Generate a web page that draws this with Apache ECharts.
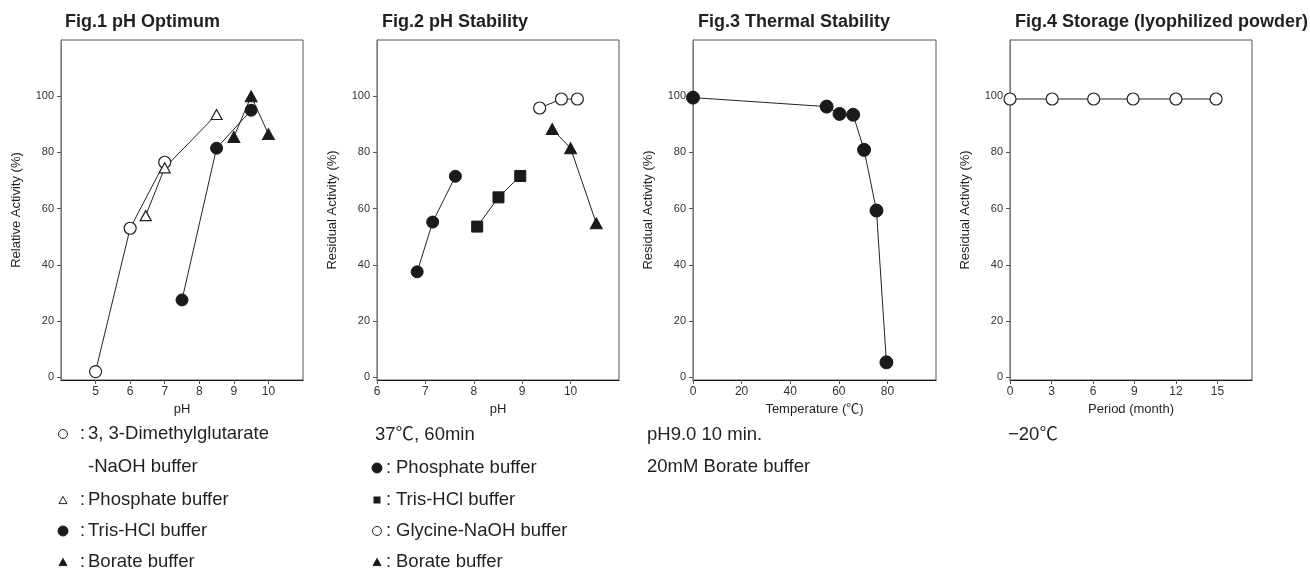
<!DOCTYPE html>
<html>
<head>
<meta charset="utf-8">
<script src="https://cdn.jsdelivr.net/npm/echarts@6/dist/echarts.min.js"></script>
<style>
html,body{margin:0;padding:0;background:#fff;}
#chart{width:1310px;height:570px;}
</style>
</head>
<body>
<div id="chart"></div>
<script>
// ---------- DATA ----------
// Fig.1 pH Optimum
const fig1DmgX = [5, 6, 7];
const fig1DmgY = [2, 53, 76.5];
const fig1PhosX = [6.45, 7, 8.5];
const fig1PhosY = [57.5, 74.5, 93.5];
const fig1TrisX = [7.5, 8.5, 9.5];
const fig1TrisY = [27.5, 81.5, 95];
const fig1BorateX = [9, 9.5, 10];
const fig1BorateY = [85.5, 100, 86.5];
// Fig.2 pH Stability
const fig2PhosX = [6.83, 7.15, 7.62];
const fig2PhosY = [37.5, 55.2, 71.5];
const fig2TrisX = [8.07, 8.51, 8.96];
const fig2TrisY = [53.6, 64, 71.6];
const fig2GlyX = [9.36, 9.81, 10.14];
const fig2GlyY = [95.8, 99, 99];
const fig2BorateX = [9.62, 10.0, 10.53];
const fig2BorateY = [88.3, 81.5, 54.8];
// Fig.3 Thermal Stability
const fig3TempX = [0, 55, 60.3, 65.9, 70.4, 75.5, 79.6];
const fig3ActY = [99.5, 96.3, 93.7, 93.4, 80.9, 59.3, 5.3];
// Fig.4 Storage
const fig4MonthX = [0, 3.05, 6.05, 8.9, 12, 14.9];
const fig4ActY = [99, 99, 99, 99, 99, 99];
// Tick labels
const yTicks = [0, 20, 40, 60, 80, 100];
const fig1XTicks = [5, 6, 7, 8, 9, 10];
const fig2XTicks = [6, 7, 8, 9, 10];
const fig3XTicks = [0, 20, 40, 60, 80];
const fig4XTicks = [0, 3, 6, 9, 12, 15];
// Texts
const titles = ['Fig.1 pH Optimum', 'Fig.2 pH Stability', 'Fig.3 Thermal Stability', 'Fig.4 Storage (lyophilized powder)'];
const xNames = ['pH', 'pH', 'Temperature (℃)', 'Period (month)'];
const yNames = ['Relative Activity (%)', 'Residual Activity (%)', 'Residual Activity (%)', 'Residual Activity (%)'];

// ---------- BUILD ----------
const FONT = '"Liberation Sans", "Noto Sans CJK JP", sans-serif';
const INK = '#231f20';
const zip = (xs, ys) => xs.map((x, i) => [x, ys[i]]);

const grids = [
  {left: 61, top: 40, width: 242, height: 340},
  {left: 377, top: 40, width: 242, height: 340},
  {left: 693, top: 40, width: 243, height: 340},
  {left: 1010, top: 40, width: 242, height: 340}
].map(g => Object.assign(g, {show: true, borderColor: '#555', borderWidth: 1, backgroundColor: 'transparent'}));

const xRanges = [[4, 11, fig1XTicks], [6, 11, fig2XTicks], [0, 100, fig3XTicks], [0, 17.5, fig4XTicks]];
const xAxes = xRanges.map((r, i) => ({
  type: 'value', gridIndex: i, min: r[0], max: r[1],
  name: xNames[i], nameLocation: 'middle', nameGap: 19,
  nameTextStyle: {fontSize: 13, color: INK, fontFamily: FONT},
  axisLine: {show: true, onZero: false, lineStyle: {color: '#1a1a1a', width: 1.2}},
  axisTick: {show: true, length: 4, customValues: r[2], lineStyle: {color: '#555'}},
  axisLabel: {show: true, customValues: r[2], fontSize: 12, color: '#333', margin: 6, fontFamily: FONT},
  splitLine: {show: false}
}));
const yAxes = [0, 1, 2, 3].map(i => ({
  type: 'value', gridIndex: i, min: -1, max: 120,
  name: yNames[i], nameLocation: 'middle', nameGap: 38,
  nameTextStyle: {fontSize: 13, color: INK, fontFamily: FONT},
  axisLine: {show: true, onZero: false, lineStyle: {color: '#777', width: 1}},
  axisTick: {show: true, length: 4, customValues: yTicks, lineStyle: {color: '#555'}},
  axisLabel: {show: true, customValues: yTicks, fontSize: 11, color: '#333', margin: 7, fontFamily: FONT},
  splitLine: {show: false}
}));

const openStyle = {color: '#fff', borderColor: '#222', borderWidth: 1.2};
const fillStyle = {color: '#1a1a1a', borderColor: '#1a1a1a', borderWidth: 1};
function mk(idx, data, symbol, size, style) {
  return {
    type: 'line', xAxisIndex: idx, yAxisIndex: idx, data: data,
    symbol: symbol, symbolSize: size, showSymbol: true, clip: false,
    lineStyle: {color: '#222', width: 1}, itemStyle: style,
    emphasis: {disabled: true}, animation: false, z: 3
  };
}
const series = [
  mk(0, zip(fig1DmgX, fig1DmgY), 'circle', 12, openStyle),
  mk(0, zip(fig1PhosX, fig1PhosY), 'triangle', [11, 10], openStyle),
  mk(0, zip(fig1TrisX, fig1TrisY), 'circle', 12, fillStyle),
  mk(0, zip(fig1BorateX, fig1BorateY), 'triangle', [12, 11], fillStyle),
  mk(1, zip(fig2PhosX, fig2PhosY), 'circle', 12, fillStyle),
  mk(1, zip(fig2TrisX, fig2TrisY), 'rect', 11, fillStyle),
  mk(1, zip(fig2GlyX, fig2GlyY), 'circle', 12, openStyle),
  mk(1, zip(fig2BorateX, fig2BorateY), 'triangle', [12, 11], fillStyle),
  mk(2, zip(fig3TempX, fig3ActY), 'circle', 13, fillStyle),
  mk(3, zip(fig4MonthX, fig4ActY), 'circle', 12, openStyle)
];

const titleLefts = [65, 382, 698, 1015];
const title = titles.map((t, i) => ({
  text: t, left: titleLefts[i], top: 13, padding: 0,
  textStyle: {fontSize: 18, fontWeight: 'bold', color: INK, fontFamily: FONT}
}));

// ---------- Legend / notes (graphic) ----------
const LF = 'normal 18.5px ' + FONT;
function txt(x, y, s) {
  return {type: 'text', x: x, y: y, style: {text: s, font: LF, fill: INK, verticalAlign: 'middle', align: 'left'}};
}
function circ(x, y, r, filled) {
  return {type: 'circle', shape: {cx: x, cy: y, r: r}, style: {fill: filled ? '#1a1a1a' : '#fff', stroke: '#222', lineWidth: 1}};
}
function tri(x, y, w, filled) {
  const h = w * 0.9;
  return {type: 'polygon', shape: {points: [[x, y - h / 2], [x - w / 2, y + h / 2], [x + w / 2, y + h / 2]]}, style: {fill: filled ? '#1a1a1a' : '#fff', stroke: '#222', lineWidth: 1}};
}
function sq(x, y, s) {
  return {type: 'rect', shape: {x: x - s / 2, y: y - s / 2, width: s, height: s}, style: {fill: '#1a1a1a'}};
}
const graphic = [
  // Fig.1 legend
  circ(63, 434, 4.5, false), txt(80, 434, ':'), txt(88, 434, '3, 3-Dimethylglutarate'),
  txt(88, 467, '-NaOH buffer'),
  tri(63, 500, 8, false), txt(80, 500, ':'), txt(88, 500, 'Phosphate buffer'),
  circ(63, 531, 5, true), txt(80, 531, ':'), txt(88, 531, 'Tris-HCl buffer'),
  tri(63, 562, 8, true), txt(80, 562, ':'), txt(88, 562, 'Borate buffer'),
  // Fig.2 legend
  txt(375, 435, '37℃, 60min'),
  circ(377, 468, 5, true), txt(386, 468, ':'), txt(396, 468, 'Phosphate buffer'),
  sq(377, 500, 7), txt(386, 500, ':'), txt(396, 500, 'Tris-HCl buffer'),
  circ(377, 531, 4.5, false), txt(386, 531, ':'), txt(396, 531, 'Glycine-NaOH buffer'),
  tri(377, 562, 8, true), txt(386, 562, ':'), txt(396, 562, 'Borate buffer'),
  // Fig.3 notes
  txt(647, 435, 'pH9.0 10 min.'),
  txt(647, 467, '20mM Borate buffer'),
  // Fig.4 note
  txt(1008, 435, '−20℃')
];

const chart = echarts.init(document.getElementById('chart'), null, {renderer: 'canvas'});
chart.setOption({
  backgroundColor: '#fff',
  animation: false,
  title: title,
  grid: grids,
  xAxis: xAxes,
  yAxis: yAxes,
  series: series,
  graphic: graphic
});
</script>
</body>
</html>
